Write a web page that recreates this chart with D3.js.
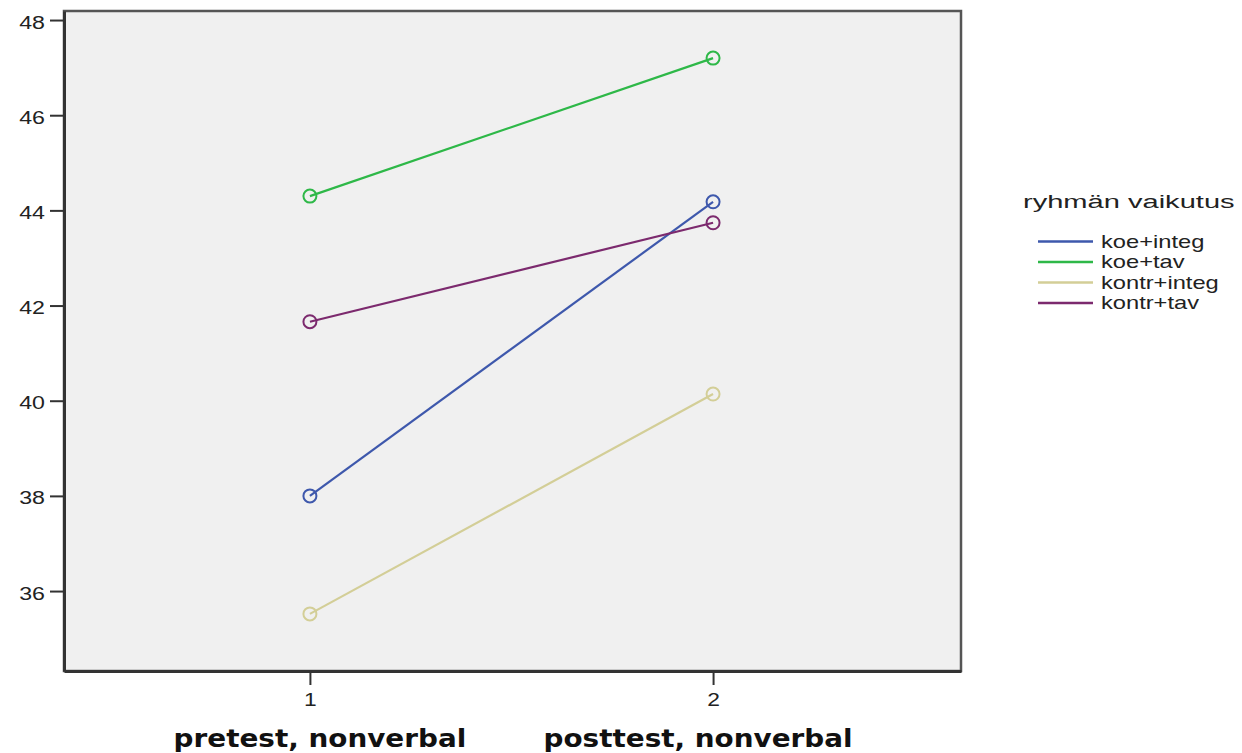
<!DOCTYPE html>
<html>
<head>
<meta charset="utf-8">
<script src="https://cdn.jsdelivr.net/npm/d3@7"></script>
<style>
  html, body { margin: 0; padding: 0; background: #fff; }
  svg { display: block; }
</style>
</head>
<body>
<svg id="chart" width="1242" height="753"></svg>
<script>
// ---- data ----
const timepoints = [1, 2];
const timeLabels = ["pretest, nonverbal", "posttest, nonverbal"];
const groups = ["koe+integ", "koe+tav", "kontr+integ", "kontr+tav"];
const groupColors = ["#3E58AC", "#2EB848", "#D3CE97", "#7C2A6E"];
const koeInteg = [38.0, 44.18];
const koeTav = [44.30, 47.20];
const kontrInteg = [35.52, 40.14];
const kontrTav = [41.66, 43.74];
const seriesValues = [koeInteg, koeTav, kontrInteg, kontrTav];
const yTicks = [36, 38, 40, 42, 44, 46, 48];
const legendTitle = "ryhmän vaikutus";

// ---- layout ----
const svg = d3.select("#chart");
const plot = { left: 64, top: 11, right: 961, bottom: 671 };

const x = d3.scaleLinear().domain([0.39, 2.615]).range([plot.left, plot.right]);
const y = d3.scaleLinear().domain([34.32, 48.19]).range([plot.bottom, plot.top]);

const sansFont = "'Liberation Sans', Arial, sans-serif";

// plot background
svg.append("rect")
  .attr("x", plot.left).attr("y", plot.top)
  .attr("width", plot.right - plot.left).attr("height", plot.bottom - plot.top)
  .attr("fill", "#f0f0f0")
  .attr("stroke", "#555").attr("stroke-width", 2.5);

// axes
const yAxis = svg.append("g")
  .attr("transform", `translate(${plot.left},0)`)
  .call(d3.axisLeft(y).tickValues(yTicks).tickSizeInner(14).tickSizeOuter(0).tickFormat(d3.format("d")));
yAxis.select(".domain").attr("stroke", "#333").attr("stroke-width", 3);
yAxis.selectAll(".tick line").attr("stroke", "#333").attr("stroke-width", 2);
yAxis.selectAll(".tick text")
  .attr("font-family", sansFont)
  .attr("font-size", 19)
  .attr("fill", "#222")
  .attr("x", null).attr("dy", null)
  .attr("text-anchor", "end")
  .attr("transform", "translate(-19,8) scale(1.22,1)");

const xAxis = svg.append("g")
  .attr("transform", `translate(0,${plot.bottom})`)
  .call(d3.axisBottom(x).tickValues(timepoints).tickSizeInner(14).tickSizeOuter(0).tickFormat(d3.format("d")));
xAxis.select(".domain").attr("stroke", "#333").attr("stroke-width", 3);
xAxis.selectAll(".tick line").attr("stroke", "#333").attr("stroke-width", 2);
xAxis.selectAll(".tick text")
  .attr("font-family", sansFont)
  .attr("font-size", 19)
  .attr("fill", "#222")
  .attr("y", null).attr("dy", null)
  .attr("transform", "translate(0,35) scale(1.2,1)");

// category titles under axis
const titleOffsets = [10, -15];
svg.append("g").selectAll("text")
  .data(timepoints)
  .join("text")
  .attr("transform", (d, i) => `translate(${x(d) + titleOffsets[i]},747) scale(1.16,1)`)
  .attr("text-anchor", "middle")
  .attr("font-family", "'DejaVu Sans', Verdana, sans-serif")
  .attr("font-weight", "bold")
  .attr("font-size", 24)
  .attr("fill", "#111")
  .text((d, i) => timeLabels[i]);

// series lines and markers
const line = d3.line().x((d, i) => x(timepoints[i])).y(d => y(d));
const seriesG = svg.append("g").selectAll("g")
  .data(seriesValues)
  .join("g");
seriesG.append("path")
  .attr("d", d => line(d))
  .attr("fill", "none")
  .attr("stroke", (d, i) => groupColors[i])
  .attr("stroke-width", 2.2);
seriesG.each(function(vals, si) {
  d3.select(this).selectAll("circle")
    .data(vals)
    .join("circle")
    .attr("cx", (d, i) => x(timepoints[i]))
    .attr("cy", d => y(d))
    .attr("r", 6.5)
    .attr("fill", "none")
    .attr("stroke", groupColors[si])
    .attr("stroke-width", 2);
});

// legend
const legend = svg.append("g").attr("transform", "translate(1023,208)");
legend.append("text")
  .attr("font-family", sansFont)
  .attr("font-size", 19)
  .attr("fill", "#222")
  .attr("transform", "scale(1.53,1)")
  .text(legendTitle);
const items = legend.selectAll("g.item")
  .data(groups)
  .join("g")
  .attr("class", "item")
  .attr("transform", (d, i) => `translate(0,${33.5 + i * 20.5})`);
items.append("line")
  .attr("x1", 15).attr("x2", 70)
  .attr("y1", 0).attr("y2", 0)
  .attr("stroke", (d, i) => groupColors[i])
  .attr("stroke-width", 2.5);
items.append("text")
  .attr("font-family", sansFont)
  .attr("font-size", 18.5)
  .attr("fill", "#222")
  .attr("transform", "translate(78,6) scale(1.28,1)")
  .text(d => d);
</script>
</body>
</html>
